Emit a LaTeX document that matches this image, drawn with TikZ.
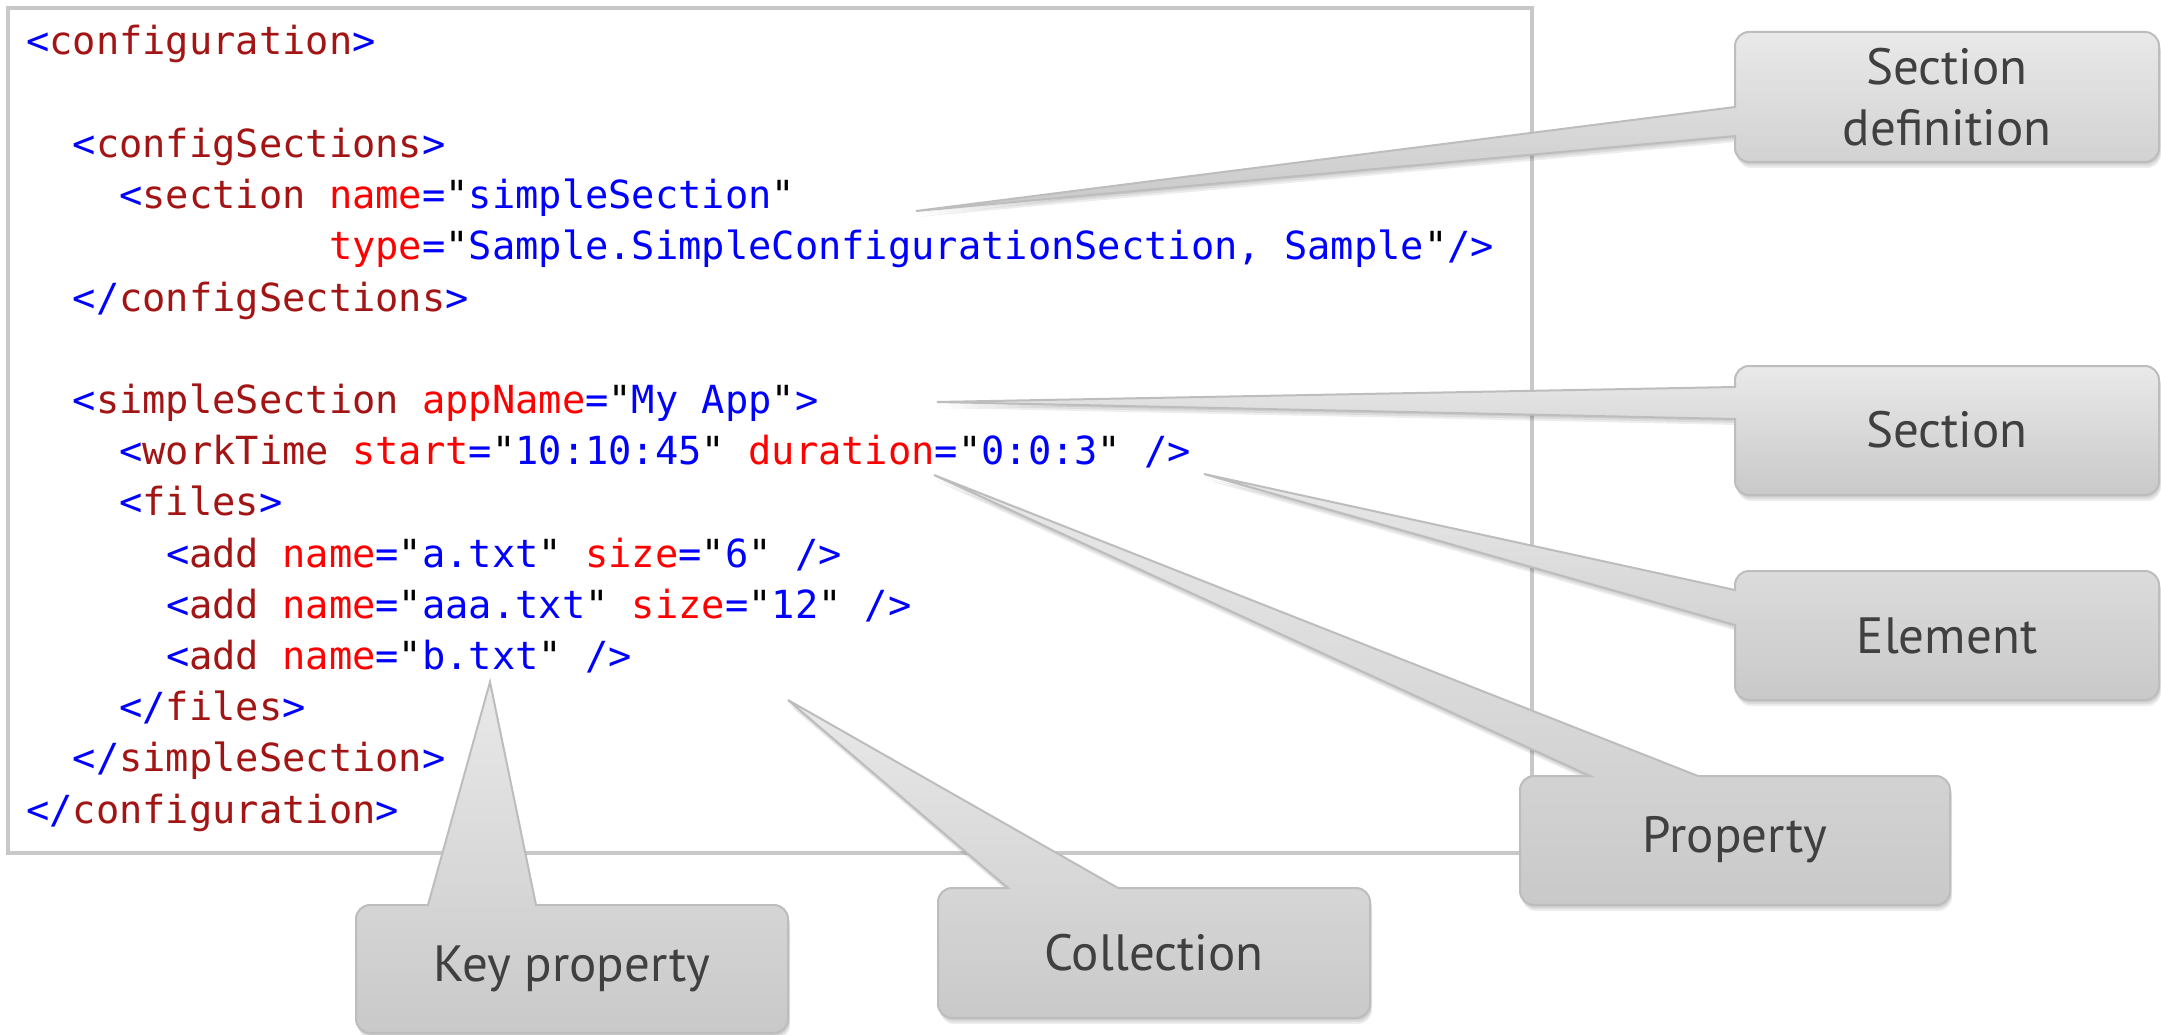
\documentclass[tikz,border=0pt]{standalone}
\usepackage{fontspec}
\newfontfamily\codefont{DejaVu Sans Mono}
\newfontfamily\lblfont{PT Sans}
\definecolor{tagc}{HTML}{A31515}
\definecolor{attrc}{HTML}{FF0000}
\definecolor{valc}{HTML}{0000FF}
\definecolor{boxborder}{HTML}{C8C8C8}
\definecolor{calborder}{HTML}{BDBDBD}
\definecolor{gtop}{HTML}{E9E9E9}
\definecolor{gbot}{HTML}{C9C9C9}
\definecolor{lbltext}{HTML}{404040}
\newcommand\xdl[1]{\textcolor{valc}{#1}}
\newcommand\xtg[1]{\textcolor{tagc}{#1}}
\newcommand\xat[1]{\textcolor{attrc}{#1}}
\newcommand\xvl[1]{\textcolor{valc}{#1}}
% callout with pointer on the left edge: L T R B y1 y2 tip
\newcommand\callLeft[7]{({#1+14},#2) -- ({#3-14},#2) .. controls ({#3-6.3},#2) and (#3,{#2+6.3}) .. (#3,{#2+14})
 -- (#3,{#4-14}) .. controls (#3,{#4-6.3}) and ({#3-6.3},#4) .. ({#3-14},#4)
 -- ({#1+14},#4) .. controls ({#1+6.3},#4) and (#1,{#4-6.3}) .. (#1,{#4-14})
 -- (#1,#6) -- #7 -- (#1,#5) -- (#1,{#2+14}) .. controls (#1,{#2+6.3}) and ({#1+6.3},#2) .. ({#1+14},#2) -- cycle}
% callout with pointer on the top edge: L T R B x1 x2 tip
\newcommand\callTop[7]{(#1,{#2+14}) .. controls (#1,{#2+6.3}) and ({#1+6.3},#2) .. ({#1+14},#2)
 -- (#5,#2) -- #7 -- (#6,#2) -- ({#3-14},#2) .. controls ({#3-6.3},#2) and (#3,{#2+6.3}) .. (#3,{#2+14})
 -- (#3,{#4-14}) .. controls (#3,{#4-6.3}) and ({#3-6.3},#4) .. ({#3-14},#4)
 -- ({#1+14},#4) .. controls ({#1+6.3},#4) and (#1,{#4-6.3}) .. (#1,{#4-14}) -- cycle}
\newcommand\drawcallout[1]{%
 \fill[shadowlayer,xshift=1pt,yshift=-2pt] #1;
 \fill[shadowlayer,xshift=1.5pt,yshift=-4pt] #1;
 \fill[shadowlayer,xshift=2pt,yshift=-6pt] #1;
 \path[callout] #1;}
\tikzset{
 code/.style={anchor=base west, inner sep=0pt, font=\codefont\fontsize{38.7}{46}\selectfont},
 callout/.style={draw=calborder, line width=2pt, top color=gtop, bottom color=gbot},
 shadowlayer/.style={fill=black, opacity=0.07},
 lbl/.style={font=\lblfont\fontsize{51}{61}\selectfont, text=lbltext, align=center, inner sep=0pt},
}
\begin{document}
\begin{tikzpicture}[x=1pt,y=-1pt]
\useasboundingbox[fill=white] (0,0) rectangle (2161,1035);
% code box
\draw[boxborder, line width=4pt] (8,8) rectangle (1532,853);
% code lines: x = 26 + col*23.3, baseline = 55 + 51.2*(line-1)
\node[code] (l1)  at (26,55)      {\xdl{<}\xtg{configuration}\xdl{>}};
\node[code] (l3)  at (72.6,157.4) {\xdl{<}\xtg{configSections}\xdl{>}};
\node[code] (l4)  at (119.2,208.6){\xdl{<}\xtg{section} \xat{name}\xdl{=}"\xvl{simpleSection}"};
\node[code] (l5)  at (328.9,259.8){\xat{type}\xdl{=}"\xvl{Sample.SimpleConfigurationSection, Sample}"\xdl{/>}};
\node[code] (l6)  at (72.6,311)   {\xdl{</}\xtg{configSections}\xdl{>}};
\node[code] (l8)  at (72.6,413.4) {\xdl{<}\xtg{simpleSection} \xat{appName}\xdl{=}"\xvl{My App}"\xdl{>}};
\node[code] (l9)  at (119.2,464.6){\xdl{<}\xtg{workTime} \xat{start}\xdl{=}"\xvl{10:10:45}" \xat{duration}\xdl{=}"\xvl{0:0:3}" \xdl{/>}};
\node[code] (l10) at (119.2,515.8){\xdl{<}\xtg{files}\xdl{>}};
\node[code] (l11) at (165.8,567)  {\xdl{<}\xtg{add} \xat{name}\xdl{=}"\xvl{a.txt}" \xat{size}\xdl{=}"\xvl{6}" \xdl{/>}};
\node[code] (l12) at (165.8,618.2){\xdl{<}\xtg{add} \xat{name}\xdl{=}"\xvl{aaa.txt}" \xat{size}\xdl{=}"\xvl{12}" \xdl{/>}};
\node[code] (l13) at (165.8,669.4){\xdl{<}\xtg{add} \xat{name}\xdl{=}"\xvl{b.txt}" \xdl{/>}};
\node[code] (l14) at (119.2,720.6){\xdl{</}\xtg{files}\xdl{>}};
\node[code] (l15) at (72.6,771.8) {\xdl{</}\xtg{simpleSection}\xdl{>}};
\node[code] (l16) at (26,823)     {\xdl{</}\xtg{configuration}\xdl{>}};
% callouts
\drawcallout{\callLeft{1735}{32}{2159}{162}{107}{136}{(916,211)}}
\node[lbl] (secdef) at (1947,97) {Section\\definition};
\drawcallout{\callLeft{1735}{366}{2159}{495}{387}{419}{(937,402)}}
\node[lbl] (sec) at (1947,430) {Section};
\drawcallout{\callLeft{1735}{571}{2159}{700}{590}{625}{(1204,474)}}
\node[lbl] (elem) at (1947,636) {Element};
\drawcallout{\callTop{1520}{776}{1950}{905}{1590}{1698}{(934,475)}}
\node[lbl] (prop) at (1735,840) {Property};
\drawcallout{\callTop{938}{888}{1370}{1018}{1008}{1118}{(788,700)}}
\node[lbl] (coll) at (1154,953) {Collection};
\drawcallout{\callTop{356}{905}{788}{1033}{428}{536}{(490,682)}}
\node[lbl] (key) at (572,969) {Key property};
\end{tikzpicture}
\end{document}
